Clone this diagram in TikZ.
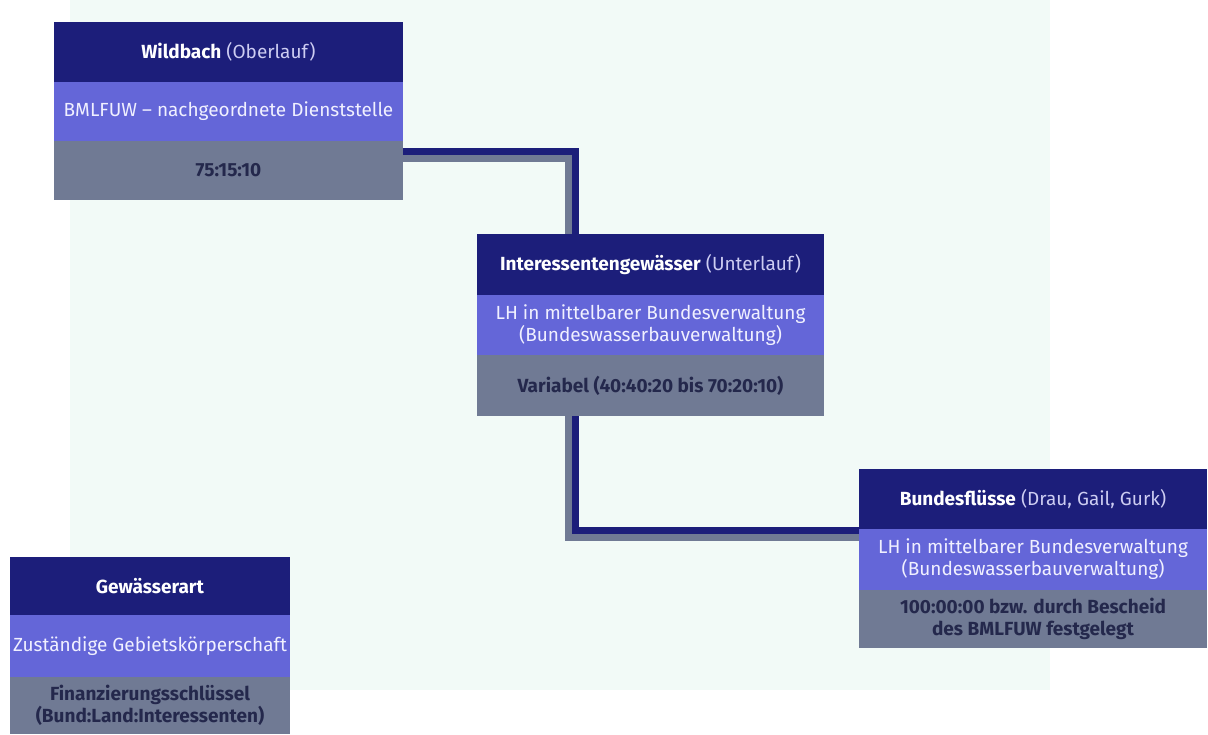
\documentclass[tikz,border=0pt]{standalone}
\usepackage{fontspec}
\setmainfont{Fira Sans}
\definecolor{hdark}{RGB}{28,30,122}
\definecolor{hmid}{RGB}{100,102,216}
\definecolor{hgrey}{RGB}{112,122,148}
\definecolor{tgrey}{RGB}{36,40,76}
\definecolor{tparen}{RGB}{205,205,242}
\definecolor{tmid}{RGB}{240,240,255}
\definecolor{mint}{RGB}{242,250,247}
\definecolor{shadow}{RGB}{112,122,148}
\tikzset{
  cell/.style={anchor=north west, inner sep=0pt, outer sep=0pt, align=center, font=\fontsize{19}{22}\selectfont},
  toprow/.style={cell, fill=hdark, text=white},
  midrow/.style={cell, fill=hmid, text=tmid},
  botrow/.style={cell, fill=hgrey, text=tgrey, font=\fontsize{19}{22}\selectfont\bfseries},
  conn/.style={draw=hdark, line width=7pt},
  connshadow/.style={draw=shadow, line width=7pt},
}
\newcommand{\paren}[1]{\textcolor{tparen}{\mdseries #1}}
\begin{document}
\begin{tikzpicture}[x=1pt,y=-1pt]
\useasboundingbox (0,0) rectangle (1208,734);
\fill[mint] (70,0) rectangle (1050,690);
% Wildbach
\node[toprow, minimum width=349pt, minimum height=60pt] (w1) at (54,22) {\textbf{Wildbach} \paren{(Oberlauf)}};
\node[midrow, minimum width=349pt, minimum height=59pt] (w2) at (54,82) {BMLFUW – nachgeordnete Dienststelle};
\node[botrow, minimum width=349pt, minimum height=59pt] (w3) at (54,141) {75:15:10};
% Interessentengewaesser
\node[toprow, minimum width=347pt, minimum height=61pt] (i1) at (477,234) {\textbf{Interessentengewässer} \paren{(Unterlauf)}};
\node[midrow, minimum width=347pt, minimum height=60pt] (i2) at (477,295) {LH in mittelbarer Bundesverwaltung\\(Bundeswasserbauverwaltung)};
\node[botrow, minimum width=347pt, minimum height=61pt] (i3) at (477,355) {Variabel (40:40:20 bis 70:20:10)};
% Bundesfluesse
\node[toprow, minimum width=348pt, minimum height=60pt] (b1) at (859,469) {\textbf{Bundesflüsse} \paren{(Drau, Gail, Gurk)}};
\node[midrow, minimum width=348pt, minimum height=61pt] (b2) at (859,529) {LH in mittelbarer Bundesverwaltung\\(Bundeswasserbauverwaltung)};
\node[botrow, minimum width=348pt, minimum height=58pt] (b3) at (859,590) {100:00:00 bzw. durch Bescheid\\des BMLFUW festgelegt};
% Legend
\node[toprow, minimum width=280pt, minimum height=58pt] (g1) at (10,557) {\textbf{Gewässerart}};
\node[midrow, minimum width=280pt, minimum height=62pt] (g2) at (10,615) {Zuständige Gebietskörperschaft};
\node[botrow, minimum width=280pt, minimum height=57pt] (g3) at (10,677) {Finanzierungsschlüssel\\(Bund:Land:Interessenten)};
% connectors
\coordinate (c1s) at ([yshift=-17pt]w3.north east);
\coordinate (c1d) at ([yshift=-10pt]w3.north east);
\draw[connshadow] (c1s) -| ([xshift=-82pt]i1.north);
\draw[conn] (c1d) -| ([xshift=-75pt]i1.north);
\coordinate (c2d) at ([xshift=-75pt]i3.south);
\coordinate (c2s) at ([xshift=-82pt]i3.south);
\draw[connshadow] (c2s) |- ([yshift=-8pt]b2.north west);
\draw[conn] (c2d) |- ([yshift=-1pt]b2.north west);
\end{tikzpicture}
\end{document}
